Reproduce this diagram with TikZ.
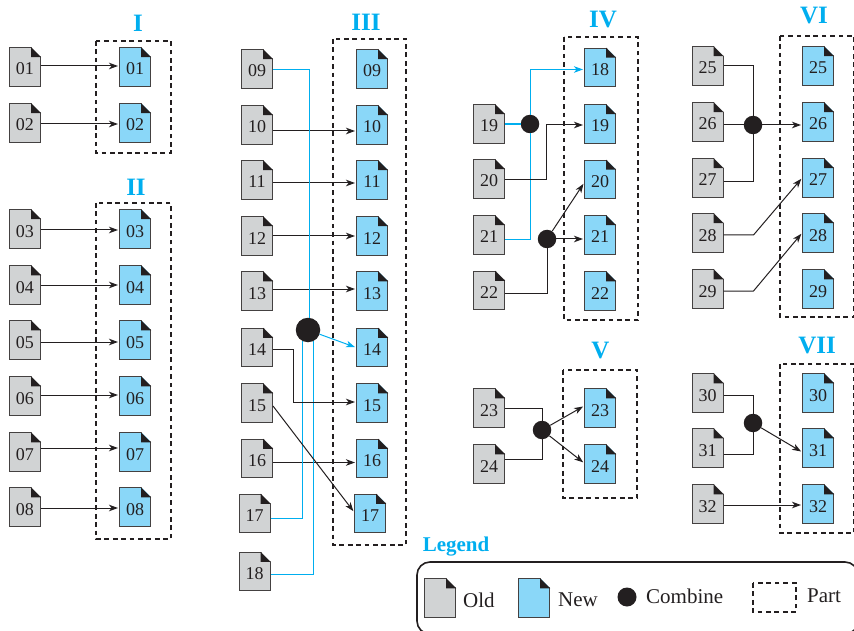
\documentclass[tikz,border=0pt]{standalone}
\usepackage{fontspec}
\setmainfont{Liberation Serif}
\usetikzlibrary{arrows.meta,calc}
\definecolor{oldgray}{RGB}{209,211,212}
\definecolor{newblue}{RGB}{138,215,248}
\definecolor{partcyan}{RGB}{0,174,239}
\definecolor{inkblack}{RGB}{35,31,32}
\tikzset{
  oldfile/.style={draw=inkblack!85, line width=1pt, fill=oldgray, minimum width=31pt, minimum height=38.5pt,
    inner sep=0pt, font=\fontsize{18}{18}\selectfont, text=inkblack, text height=16pt, text depth=0pt},
  newfile/.style={oldfile, fill=newblue},
  partbox/.style={draw=inkblack, line width=2.2pt, dash pattern=on 4.7pt off 3.7pt},
  parttitle/.style={font=\fontsize{25}{25}\selectfont\bfseries, text=partcyan, inner sep=0pt},
  combine/.style={circle, fill=inkblack, inner sep=0pt, minimum size=18.5pt},
  legendtext/.style={font=\fontsize{21}{21}\selectfont, text=inkblack, inner sep=0pt, anchor=west},
  link/.style={-{Stealth[length=9pt,width=6.5pt,inset=2.5pt]}, draw=inkblack, line width=1pt, shorten >=1pt},
  plainlink/.style={draw=inkblack, line width=1pt},
  bluelink/.style={draw=partcyan, line width=1pt}
}
% file with folded corner: style, name, position, label
\newcommand{\docfile}[4]{%
  \node[#1] (#2) at (#3) {#4};
  \fill[white] ($(#2.north east)+(-10.5,-1.2)$) -- ($(#2.north east)+(1.2,-1.2)$) -- ($(#2.north east)+(1.2,10.5)$) -- cycle;
  \fill[inkblack] ($(#2.north east)+(-10,0)$) -- ($(#2.north east)+(0,10)$) -- ($(#2.north east)+(-10,10)$) -- cycle;
}
\begin{document}
\begin{tikzpicture}[x=1pt,y=-1pt]
\useasboundingbox (0,0) rectangle (854,631);
% -- Old files --
\foreach \nm/\px/\py in {01/25/67, 02/25/123, 03/25/229, 04/25/285, 05/25/340, 06/25/396, 07/25/452, 08/25/507,
  09/257/69, 10/257/125, 11/257/180, 12/257/236, 13/257/291, 14/257/347.5, 15/257/403, 16/257/458.5, 17/254.5/513.5, 18/254.5/571.5,
  19/489/124, 20/489/179, 21/489/235, 22/489/290.5, 23/489/408, 24/489/464,
  25/707.5/66, 26/707.5/122, 27/707.5/178, 28/707.5/233, 29/707.5/289, 30/707.5/393, 31/707.5/448, 32/707.5/504} {
  \docfile{oldfile}{old\nm}{\px,\py}{\nm}
}
% -- New files --
\foreach \nm/\px/\py in {01/135/67, 02/135/123, 03/135/229, 04/135/285, 05/135/340, 06/135/396, 07/135/452, 08/135/507,
  09/372/69, 10/372/125, 11/372/180, 12/372/236, 13/372/291, 14/372/347.5, 15/372/403, 16/372/458.5, 17/370/513.5,
  18/600/67.5, 19/600/124, 20/600/179.5, 21/600/235, 22/600/291, 23/600/408, 24/600/464,
  25/818/66, 26/818/122, 27/818/178, 28/818/233, 29/818/289, 30/818/393, 31/818/448, 32/818/504} {
  \docfile{newfile}{new\nm}{\px,\py}{\nm}
}
% -- Parts --
\draw[partbox] (96,41) rectangle (171,153);
\draw[partbox] (96,203) rectangle (171,539);
\draw[partbox] (333,39) rectangle (406,545);
\draw[partbox] (564,37) rectangle (638,320);
\draw[partbox] (563,370) rectangle (637,498);
\draw[partbox] (780,36) rectangle (854,317);
\draw[partbox] (780,364) rectangle (854,533);
\node[parttitle] (titleI) at (138,23) {I};
\node[parttitle] (titleII) at (136,187) {II};
\node[parttitle] (titleIII) at (366,22) {III};
\node[parttitle] (titleIV) at (603,20) {IV};
\node[parttitle] (titleV) at (600.5,351) {V};
\node[parttitle] (titleVI) at (814,16) {VI};
\node[parttitle] (titleVII) at (817,346) {VII};
% -- Combine points --
\node[combine, minimum size=24.5pt] (dotIII) at (308,330) {};
\node[combine] (dotIVa) at (530,124) {};
\node[combine] (dotIVb) at (547,239) {};
\node[combine] (dotV) at (542,430) {};
\node[combine] (dotVI) at (753,125) {};
\node[combine] (dotVII) at (753,423) {};
% -- Part I, II: straight links --
\foreach \nm/\dy in {01/1, 02/-1, 03/-1, 04/0, 05/-2, 06/1, 07/4, 08/-1} {
  \draw[link] ([yshift=\dy pt]old\nm.east) -- ([yshift=\dy pt]new\nm.west);
}
% -- Part III --
\foreach \nm/\dy in {10/-6, 11/-3, 12/0, 13/2, 16/-4} {
  \draw[link] ([yshift=\dy pt]old\nm.east) -- ([yshift=\dy pt]new\nm.west);
}
\draw[bluelink] ([yshift=-1pt]old09.east) -| (dotIII.85);
\draw[bluelink] ([yshift=-4.5pt]old17.east) -| (dotIII.245);
\draw[bluelink] ([yshift=-2.5pt]old18.east) -| (dotIII.295);
\draw[link, draw=partcyan] (dotIII) -- (new14.west);
\draw[link] ([yshift=-1.5pt]old14.east) -- ++(20,0) |- ([yshift=1pt]new15.west);
\draw[link] ([yshift=-3pt]old15.east) -- ([yshift=1.5pt]new17.west);
% -- Part IV --
\draw[bluelink, line width=2pt] (old19.east) -- (dotIVa);
\draw[bluelink] ([yshift=-5pt]old21.east) -| (dotIVa.south);
\draw[link, draw=partcyan] (dotIVa.north) |- ([yshift=-2pt]new18.west);
\draw[link] ([yshift=-1pt]old20.east) -- ++(41,0) |- ([yshift=-1pt]new19.west);
\draw[plainlink] ([yshift=-2.5pt]old22.east) -| (dotIVb.south);
\draw[link] (dotIVb) -- ([yshift=-3.5pt]new20.west);
\draw[link] (dotIVb) -- ([yshift=-4pt]new21.west);
% -- Part V --
\draw[plainlink] (old23.east) -| (dotV.north);
\draw[plainlink] ([yshift=5pt]old24.east) -| (dotV.south);
\draw[link] (dotV) -- ([yshift=2pt]new23.west);
\draw[link] (dotV) -- ([yshift=1pt]new24.west);
% -- Part VI --
\draw[plainlink] (old25.east) -| (dotVI.north);
\draw[plainlink] ([yshift=-4pt]old27.east) -| (dotVI.south);
\draw[plainlink] ([yshift=-3pt]old26.east) -- (dotVI);
\draw[link] (dotVI) -- ([yshift=-3pt]new26.west);
\draw[link] ([yshift=-2pt]old28.east) -- ++(30,0) -- (new27.west);
\draw[link] ([yshift=-2pt]old29.east) -- ++(30,0) -- (new28.west);
% -- Part VII --
\draw[plainlink] ([yshift=-2pt]old30.east) -| (dotVII.north);
\draw[plainlink] ([yshift=-6pt]old31.east) -| (dotVII.south);
\draw[link] (dotVII) -- ([yshift=-4pt]new31.west);
\draw[link] ([yshift=-1pt]old32.east) -- ([yshift=-1pt]new32.west);
% -- Legend --
\node[parttitle, font=\fontsize{21}{21}\selectfont\bfseries] (legendtitle) at (456,547) {Legend};
\draw[inkblack, line width=1.6pt, rounded corners=13pt] (417,562) rectangle (858,634);
\docfile{oldfile}{legendold}{440,598}{}
\docfile{newfile}{legendnew}{534,598}{}
\node[combine, minimum size=19pt] (legenddot) at (627,597) {};
\draw[partbox] (753,583) rectangle (796,612);
\node[legendtext] (oldlabel) at (463,600) {Old};
\node[legendtext] (newlabel) at (558,600) {New};
\node[legendtext] (combinelabel) at (646,596) {Combine};
\node[legendtext] (partlabel) at (807,596) {Part};
\end{tikzpicture}
\end{document}
